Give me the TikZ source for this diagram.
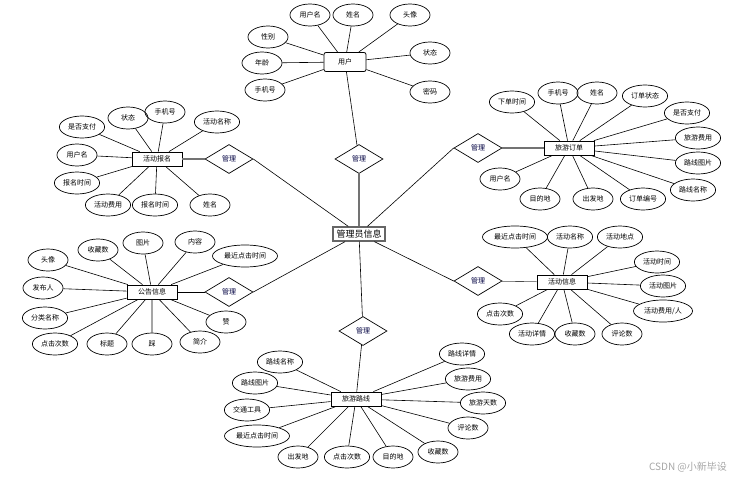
\documentclass[tikz,border=0pt]{standalone}
\usepackage{fontspec}
\setmainfont{Noto Sans CJK SC}
\usetikzlibrary{shapes.geometric}

\begin{document}
\begin{tikzpicture}[x=1pt,y=-1pt,
  attr/.style={draw,ellipse,line width=0.7pt,inner xsep=2pt,inner ysep=1pt,
    minimum width=40,minimum height=22,font=\fontsize{7}{8}\selectfont},
  ent/.style={draw,rectangle,line width=0.8pt,minimum width=50,minimum height=14,
    inner sep=2pt,font=\fontsize{7}{8}\selectfont},
  rel/.style={draw,diamond,line width=0.7pt,minimum width=48,minimum height=29,
    inner sep=0pt,text=black!75!blue,font=\fontsize{7}{8}\selectfont},
  lnk/.style={line width=0.6pt},
  glnk/.style={line width=1.4pt,draw=black!55}]
\useasboundingbox (0,0) rectangle (750,482);
% centre
\node[ent,line width=1.3pt,draw=black!60,minimum width=52,font=\fontsize{9}{10}\selectfont] (adm) at (359,234) {管理员信息};
\node[rel] (r1) at (359,159) {管理};
\node[rel] (r2) at (229,159) {管理};
\node[rel] (r3) at (229,292) {管理};
\node[rel] (r4) at (363,331) {管理};
\node[rel] (r5) at (478,148) {管理};
\node[rel] (r6) at (478,281) {管理};
% 用户
\node[ent,rounded corners=2pt,minimum width=42,minimum height=19] (usr) at (345,62) {用户};
\node[attr] (u1) at (310,15) {用户名};
\node[attr] (u2) at (353,15) {姓名};
\node[attr] (u3) at (410,15) {头像};
\node[attr] (u4) at (268,37) {性别};
\node[attr] (u5) at (262,63) {年龄};
\node[attr] (u6) at (265,90) {手机号};
\node[attr] (u7) at (430,53) {状态};
\node[attr] (u8) at (430,92) {密码};
% 活动报名
\node[ent] (bm) at (157,159) {活动报名};
\node[attr] (b1) at (82,127) {是否支付};
\node[attr] (b2) at (128,118) {状态};
\node[attr] (b3) at (165,112) {手机号};
\node[attr] (b4) at (217,122) {活动名称};
\node[attr] (b5) at (77,155) {用户名};
\node[attr] (b6) at (77,183) {报名时间};
\node[attr] (b7) at (108,205) {活动费用};
\node[attr] (b8) at (155,205) {报名时间};
\node[attr] (b9) at (210,205) {姓名};
% 旅游订单
\node[ent] (dd) at (569,148) {旅游订单};
\node[attr] (d1) at (512,102) {下单时间};
\node[attr] (d2) at (558,93) {手机号};
\node[attr] (d3) at (597,93) {姓名};
\node[attr] (d4) at (645,96) {订单状态};
\node[attr] (d5) at (687,113) {是否支付};
\node[attr] (d6) at (698,138) {旅游费用};
\node[attr] (d7) at (698,163) {路线图片};
\node[attr] (d8) at (693,190) {路线名称};
\node[attr] (d9) at (500,179) {用户名};
\node[attr] (d10) at (540,199) {目的地};
\node[attr] (d11) at (593,199) {出发地};
\node[attr] (d12) at (643,199) {订单编号};
% 公告信息
\node[ent] (gg) at (152,292) {公告信息};
\node[attr] (g1) at (48,260) {头像};
\node[attr] (g2) at (98,250) {收藏数};
\node[attr] (g3) at (143,243) {图片};
\node[attr] (g4) at (195,242) {内容};
\node[attr] (g5) at (245,256) {最近点击时间};
\node[attr] (g6) at (43,288) {发布人};
\node[attr] (g7) at (45,318) {分类名称};
\node[attr] (g8) at (55,344) {点击次数};
\node[attr] (g9) at (107,344) {标题};
\node[attr] (g10) at (152,344) {踩};
\node[attr] (g11) at (200,342) {简介};
\node[attr] (g12) at (226,322) {赞};
% 活动信息
\node[ent] (hd) at (562,282) {活动信息};
\node[attr] (h1) at (515,237) {最近点击时间};
\node[attr] (h2) at (570,237) {活动名称};
\node[attr] (h3) at (620,237) {活动地点};
\node[attr] (h4) at (657,262) {活动时间};
\node[attr] (h5) at (663,286) {活动图片};
\node[attr] (h6) at (663,311) {活动费用/人};
\node[attr] (h7) at (500,314) {点击次数};
\node[attr] (h8) at (532,334) {活动详情};
\node[attr] (h9) at (575,334) {收藏数};
\node[attr] (h10) at (622,334) {评论数};
% 旅游路线
\node[ent] (lx) at (356,399) {旅游路线};
\node[attr] (l1) at (280,362) {路线名称};
\node[attr] (l2) at (255,383) {路线图片};
\node[attr] (l3) at (247,410) {交通工具};
\node[attr] (l4) at (257,436) {最近点击时间};
\node[attr] (l5) at (298,457) {出发地};
\node[attr] (l6) at (347,457) {点击次数};
\node[attr] (l7) at (393,457) {目的地};
\node[attr] (l8) at (438,452) {收藏数};
\node[attr] (l9) at (468,428) {评论数};
\node[attr] (l10) at (483,403) {旅游天数};
\node[attr] (l11) at (468,379) {旅游费用};
\node[attr] (l12) at (462,354) {路线详情};
% connectors
\draw[lnk] (usr) -- (u1) (usr) -- (u2) (usr) -- (u3) (usr) -- (u4)
  (usr) -- (u5) (usr) -- (u6) (usr) -- (u7) (usr) -- (u8);
\draw[lnk] (bm) -- (b1) (bm) -- (b2) (bm) -- (b3) (bm) -- (b4) (bm) -- (b5)
  (bm) -- (b6) (bm) -- (b7) (bm) -- (b8) (bm) -- (b9);
\draw[lnk] (dd) -- (d1) (dd) -- (d2) (dd) -- (d3) (dd) -- (d4) (dd) -- (d5)
  (dd) -- (d6) (dd) -- (d7) (dd) -- (d8) (dd) -- (d9) (dd) -- (d10)
  (dd) -- (d11) (dd) -- (d12);
\draw[lnk] (gg) -- (g1) (gg) -- (g2) (gg) -- (g3) (gg) -- (g4) (gg) -- (g5)
  (gg) -- (g6) (gg) -- (g7) (gg) -- (g8) (gg) -- (g9) (gg) -- (g10)
  (gg) -- (g11) (gg) -- (g12);
\draw[lnk] (hd) -- (h1) (hd) -- (h2) (hd) -- (h3) (hd) -- (h4) (hd) -- (h5)
  (hd) -- (h6) (hd) -- (h7) (hd) -- (h8) (hd) -- (h9) (hd) -- (h10);
\draw[lnk] (lx) -- (l1) (lx) -- (l2) (lx) -- (l3) (lx) -- (l4) (lx) -- (l5)
  (lx) -- (l6) (lx) -- (l7) (lx) -- (l8) (lx) -- (l9) (lx) -- (l10)
  (lx) -- (l11) (lx) -- (l12);
\draw[lnk] (usr) -- (r1);
\draw[glnk] (r1) -- (adm);
\draw[glnk] (bm) -- (r2);
\draw[lnk] (r2.east) -- (adm);
\draw[lnk] (gg) -- (r3);
\draw[lnk] (r3.east) -- (adm);
\draw[lnk] (adm) -- (r4) (r4) -- (lx);
\draw[glnk] (dd) -- (r5);
\draw[lnk] (r5.west) -- (adm);
\draw[lnk,draw=black!70] (r6) -- (hd);
\draw[lnk] (r6.west) -- (adm);
% watermark
\node[text=black!35,font=\fontsize{10}{12}\selectfont] (wm) at (688,467) {CSDN @小新毕设};
\end{tikzpicture}
\end{document}
